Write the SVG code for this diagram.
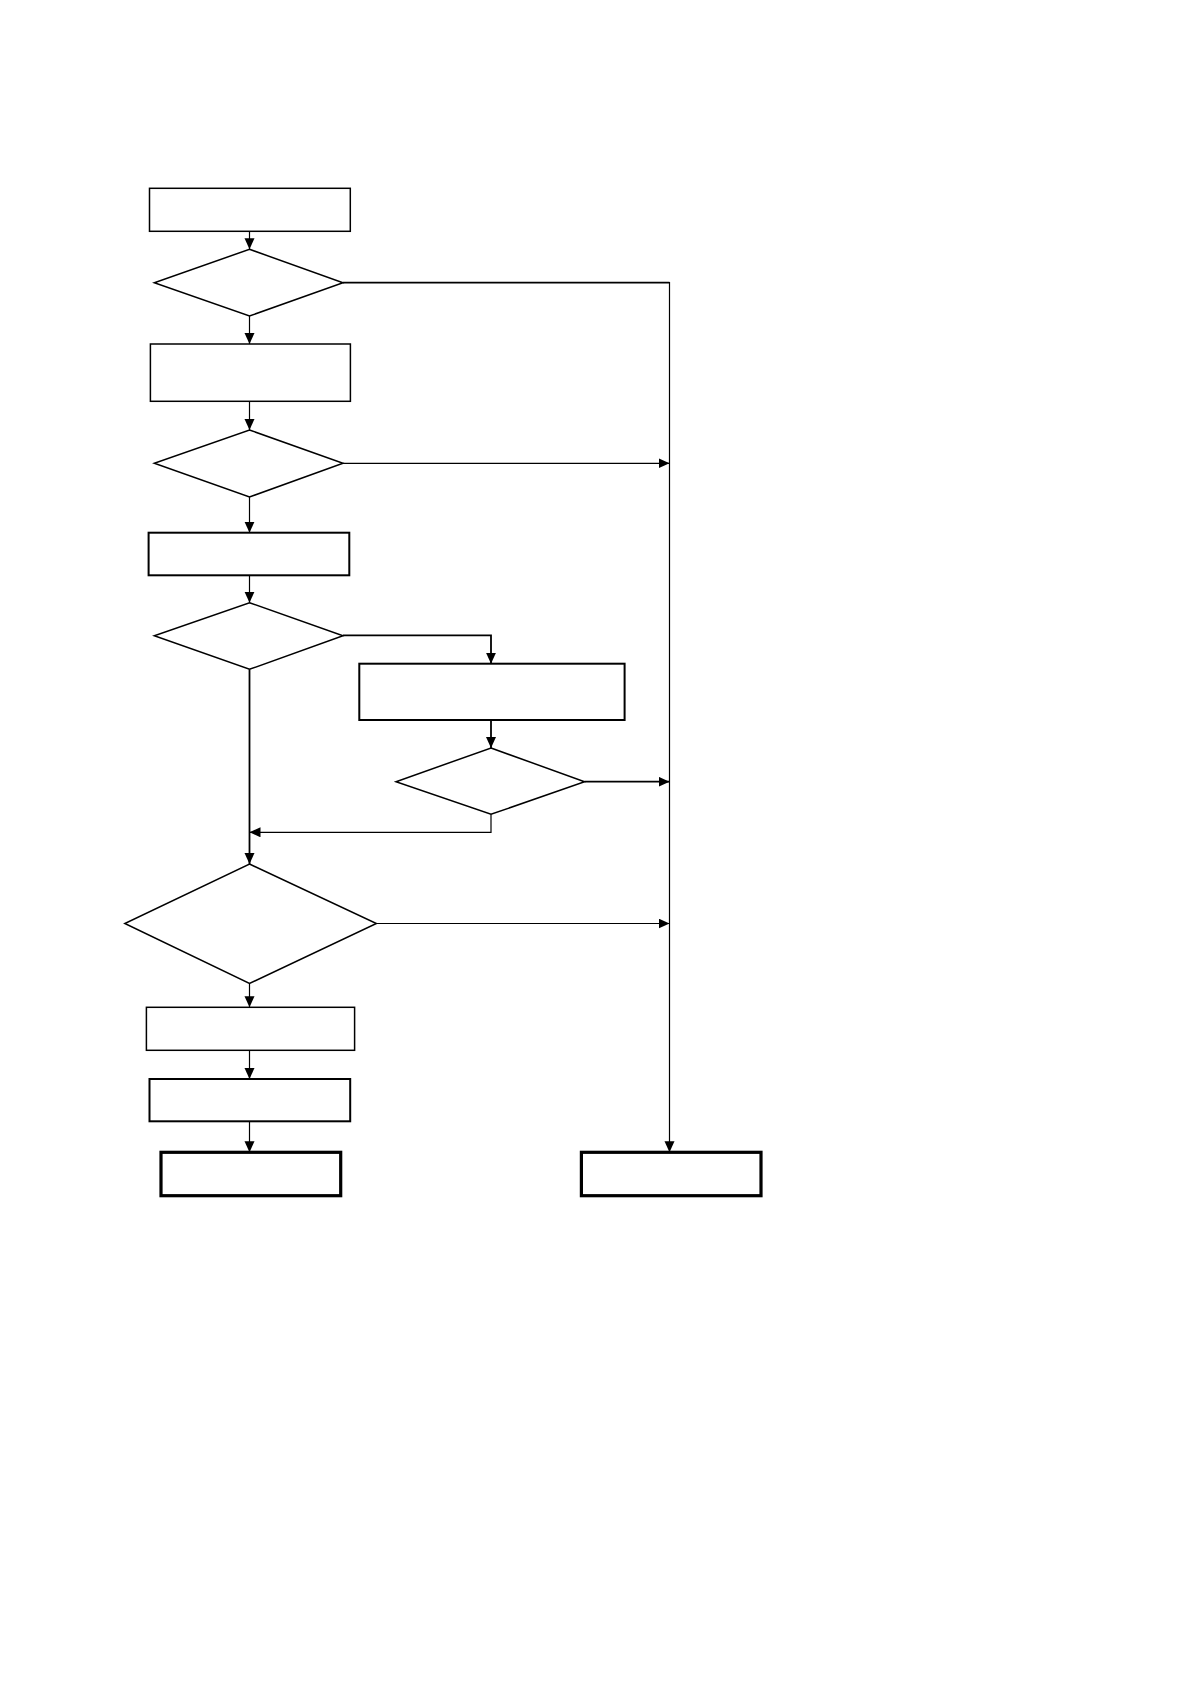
<svg xmlns="http://www.w3.org/2000/svg" width="1190" height="1684" viewBox="0 0 1190 1684">
<style>
.n{fill:#fff;stroke:#000;stroke-width:1.5}
.b2{stroke-width:2}
.b3{stroke-width:3.2}
.c{fill:none;stroke:#000;stroke-width:1.2}
.ct{stroke-width:1.8}
</style>
<defs>
<marker id="ah" markerUnits="userSpaceOnUse" markerWidth="12" markerHeight="11" refX="11" refY="5" orient="auto">
<path d="M0,0 L11,5 L0,10 z" fill="#000"/>
</marker>
</defs>
<rect width="1190" height="1684" fill="#fff"/>
<g id="connectors">
<path class="c" d="M249.5,231.3 V249.3" marker-end="url(#ah)"/>
<path class="c" d="M249.5,316 V344" marker-end="url(#ah)"/>
<path class="c" d="M249.5,401.3 V430" marker-end="url(#ah)"/>
<path class="c" d="M249.5,497 V532.7" marker-end="url(#ah)"/>
<path class="c" d="M249.5,575.3 V602.7" marker-end="url(#ah)"/>
<path class="c ct" d="M343,635.3 H491 V663.7" marker-end="url(#ah)"/>
<path class="c ct" d="M491,720 V748" marker-end="url(#ah)"/>
<path class="c ct" d="M584.6,781.7 H669.5" marker-end="url(#ah)"/>
<path class="c" d="M491,814.3 V832.3 H249.5" marker-end="url(#ah)"/>
<path class="c ct" d="M249.5,669.3 V864" marker-end="url(#ah)"/>
<path class="c" d="M376.4,923.5 H669.5" marker-end="url(#ah)"/>
<path class="c" d="M249.5,983.5 V1007.3" marker-end="url(#ah)"/>
<path class="c" d="M249.5,1050.3 V1079" marker-end="url(#ah)"/>
<path class="c" d="M249.5,1121.3 V1152.3" marker-end="url(#ah)"/>
<path class="c ct" d="M343,282.7 H669.5"/>
<path class="c" d="M669.5,282 V1152.3" marker-end="url(#ah)"/>
<path class="c" d="M343,463.3 H669.5" marker-end="url(#ah)"/>
</g>
<g id="box1"><rect class="n" x="149.5" y="188.3" width="200.8" height="43"/></g>
<g id="decision1"><polygon class="n" points="249.5,249.3 343,282.7 249.5,316 154.3,282.7"/></g>
<g id="box2"><rect class="n" x="150.4" y="344" width="200" height="57.3"/></g>
<g id="decision2"><polygon class="n" points="249.5,430 343,463.3 249.5,497 154.3,463.3"/></g>
<g id="box3"><rect class="n b2" x="148.6" y="532.7" width="200.7" height="42.6"/></g>
<g id="decision3"><polygon class="n" points="249.5,602.7 343,635.7 249.5,669.3 154.3,635.7"/></g>
<g id="box4"><rect class="n b2" x="359.3" y="663.7" width="265.3" height="56.3"/></g>
<g id="decision4"><polygon class="n" points="491,748 584.6,781.7 491,814.3 396,781.7"/></g>
<g id="decision5"><polygon class="n" points="249.5,864 376.4,923.5 249.5,983.5 124.8,923.5"/></g>
<g id="box5"><rect class="n" x="146.4" y="1007.3" width="208.2" height="43"/></g>
<g id="box6"><rect class="n b2" x="149.5" y="1079" width="200.7" height="42.3"/></g>
<g id="box7"><rect class="n b3" x="161" y="1152.3" width="179.7" height="43.4"/></g>
<g id="box8"><rect class="n b3" x="581.4" y="1152.3" width="179.6" height="43.4"/></g>
</svg>
